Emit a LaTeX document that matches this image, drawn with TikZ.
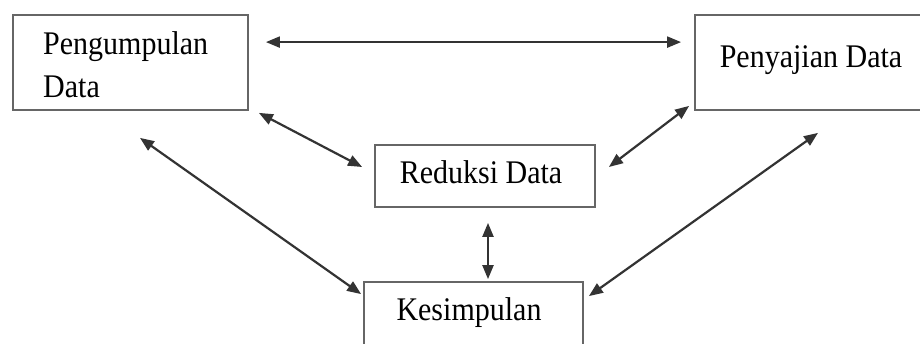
\documentclass[tikz,border=0pt]{standalone}
\usepackage{fontspec}
\usepackage{graphicx}
\setmainfont{Liberation Serif}
\usetikzlibrary{arrows.meta,calc}
\begin{document}
\begin{tikzpicture}[x=1pt,y=-1pt,
  box/.style={draw=black!60, line width=1.8pt, inner sep=0pt},
  lbl/.style={inner sep=0pt, font=\fontsize{30}{36}\selectfont},
  conn/.style={draw=black!80, line width=2.2pt,
    {Triangle[length=14pt,width=11pt]}-{Triangle[length=14pt,width=11pt]}}]
\useasboundingbox (0,0) rectangle (920,344);
\clip (0,0) rectangle (920,344);
\fill[white] (0,0) rectangle (920,344);
% boxes
\node[box, minimum width=235pt, minimum height=95pt] (pd) at (130.5,62.5) {};
\node[box, minimum width=240pt, minimum height=95pt] (sd) at (815,62.5) {};
\node[box, minimum width=220pt, minimum height=62pt] (rd) at (485,176) {};
\node[box, minimum width=219pt, minimum height=78pt] (ks) at (473.5,321) {};
% labels
\node[lbl, anchor=base west] (t1) at (43,55) {\scalebox{1}[1.1]{Pengumpulan}};
\node[lbl, anchor=base west] (t2) at (43,98) {\scalebox{1}[1.1]{Data}};
\node[lbl, anchor=base] (t3) at (811,68) {\scalebox{1}[1.1]{Penyajian Data}};
\node[lbl, anchor=base] (t4) at (481,184) {\scalebox{1}[1.1]{Reduksi Data}};
\node[lbl, anchor=base] (t5) at (469,320) {\scalebox{1}[1.1]{Kesimpulan}};
% connectors
\draw[conn] ($(pd.north east)+(17,28)$) -- ($(sd.north west)+(-13,28)$);
\draw[conn] ($(pd.south east)+(10,2)$) -- ($(rd.west)+(-12,-9)$);
\draw[conn] ($(pd.south)+(9.5,27)$) -- ($(ks.north west)+(-2,13)$);
\draw[conn] ($(sd.south west)+(-5,-5)$) -- ($(rd.east)+(13,-9)$);
\draw[conn] ($(sd.south)+(3,22)$) -- ($(ks.north east)+(5,15)$);
\draw[conn] ($(rd.south)+(3,15)$) -- ($(ks.north)+(14.5,-2)$);
\end{tikzpicture}
\end{document}
